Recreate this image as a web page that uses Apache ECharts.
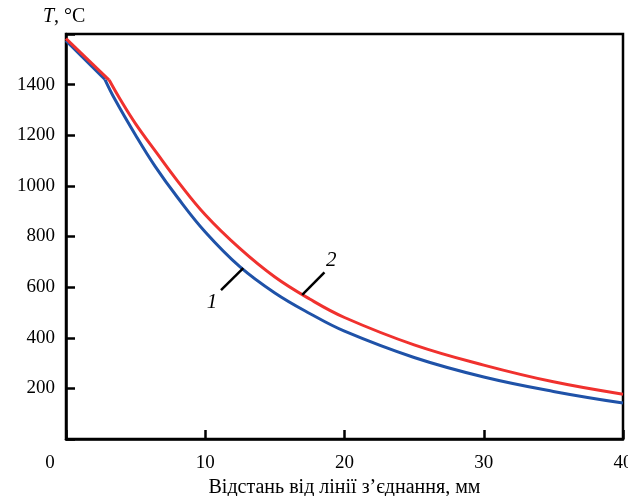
<!DOCTYPE html>
<html><head><meta charset="utf-8">
<script src="https://cdn.jsdelivr.net/npm/echarts@6/dist/echarts.min.js"></script>
<style>html,body{margin:0;padding:0;background:#fff}#c{width:628px;height:496px}</style>
</head><body><div id="c"></div>
<script>
// Curve 1 (blue): straight start segment then smooth curve
const blueStartX = [0, 2.8];
const blueStartY = [1574, 1420];
const blueX = [2.8, 3.5, 5, 6.4, 8, 10, 12.5, 15, 17.5, 20, 25, 30, 35, 40];
const blueY = [1420, 1343, 1200, 1077, 955, 818, 680, 577, 496, 426, 322, 245, 188, 142];
// Curve 2 (red)
const redStartX = [0, 3.1];
const redStartY = [1582, 1418];
const redX = [3.1, 3.9, 5, 6.5, 8, 10, 12.5, 15, 17.5, 20, 25, 30, 35, 40];
const redY = [1418, 1341, 1245, 1131, 1020, 886, 752, 640, 553, 480, 372, 292, 226, 177];
// leader lines and curve labels
const leader1 = [[11.13, 588], [12.73, 675]];
const leader2 = [[16.96, 569], [18.56, 658]];
const curveLabels = [[10.48, 538, '1'], [19.04, 706, '2']];
const xTicks = [0, 10, 20, 30, 40];
const yTicks = [200, 400, 600, 800, 1000, 1200, 1400];
const xTitle = 'Відстань від лінії з’єднання, мм';

const zip = (a, b) => a.map((v, i) => [v, b[i]]);
const font = '"Liberation Serif","DejaVu Serif",serif';
const chart = echarts.init(document.getElementById('c'));
const lineBase = {type: 'line', symbol: 'none', silent: true, z: 3};
chart.setOption({
  animation: false,
  grid: {left: 66, right: 5, top: 34, bottom: 57, outerBoundsMode: 'none', containLabel: false,
    show: true, borderColor: '#000', borderWidth: 2.5},
  xAxis: {
    type: 'value', min: 0, max: 40, interval: 10,
    axisLine: {show: true, onZero: false, lineStyle: {color: '#000', width: 2.5}},
    axisTick: {show: true, inside: true, length: 9, lineStyle: {color: '#000', width: 2.5}},
    splitLine: {show: false},
    axisLabel: {
      margin: 15, color: '#000', fontFamily: font, fontSize: 19,
      formatter: v => xTicks.includes(v) ? (v === 0 ? '{z|0}' : String(v)) : '',
      rich: {z: {fontFamily: font, fontSize: 19, color: '#000', padding: [0, 32, 0, 0]}}
    },
    name: xTitle, nameLocation: 'middle', nameGap: 36,
    nameTextStyle: {color: '#000', fontFamily: font, fontSize: 20}
  },
  yAxis: {
    type: 'value', min: 0, max: 1600, interval: 200,
    axisLine: {show: true, lineStyle: {color: '#000', width: 2.5}},
    axisTick: {show: true, inside: true, length: 9, lineStyle: {color: '#000', width: 2.5}},
    splitLine: {show: false},
    axisLabel: {
      margin: 11, color: '#000', fontFamily: font, fontSize: 19,
      formatter: v => yTicks.includes(v) ? String(v) : ''
    }
  },
  graphic: [{
    type: 'text', left: 43, top: 7,
    style: {
      text: '{i|T}, °C',
      rich: {i: {fontStyle: 'italic', fontFamily: font, fontSize: 20, fill: '#000'}},
      fontFamily: font, fontSize: 20, fill: '#000'
    }
  }],
  series: [
    Object.assign({}, lineBase, {data: zip(blueStartX, blueStartY), lineStyle: {color: '#1f52a8', width: 3}}),
    Object.assign({}, lineBase, {data: zip(blueX, blueY), smooth: 0.4, lineStyle: {color: '#1f52a8', width: 3}}),
    Object.assign({}, lineBase, {data: zip(redStartX, redStartY), lineStyle: {color: '#f0312e', width: 3}}),
    Object.assign({}, lineBase, {data: zip(redX, redY), smooth: 0.4, lineStyle: {color: '#f0312e', width: 3}}),
    Object.assign({}, lineBase, {data: leader1, lineStyle: {color: '#000', width: 2.5}, z: 4}),
    Object.assign({}, lineBase, {data: leader2, lineStyle: {color: '#000', width: 2.5}, z: 4}),
    {
      type: 'scatter', symbolSize: 0, silent: true, z: 5,
      itemStyle: {color: '#000', opacity: 1},
      data: curveLabels.map(d => ({value: [d[0], d[1]], name: d[2]})),
      label: {show: true, position: 'inside', formatter: p => p.name, color: '#000',
        textBorderWidth: 0, opacity: 1,
        fontFamily: font, fontStyle: 'italic', fontSize: 21}
    }
  ]
});
</script></body></html>
